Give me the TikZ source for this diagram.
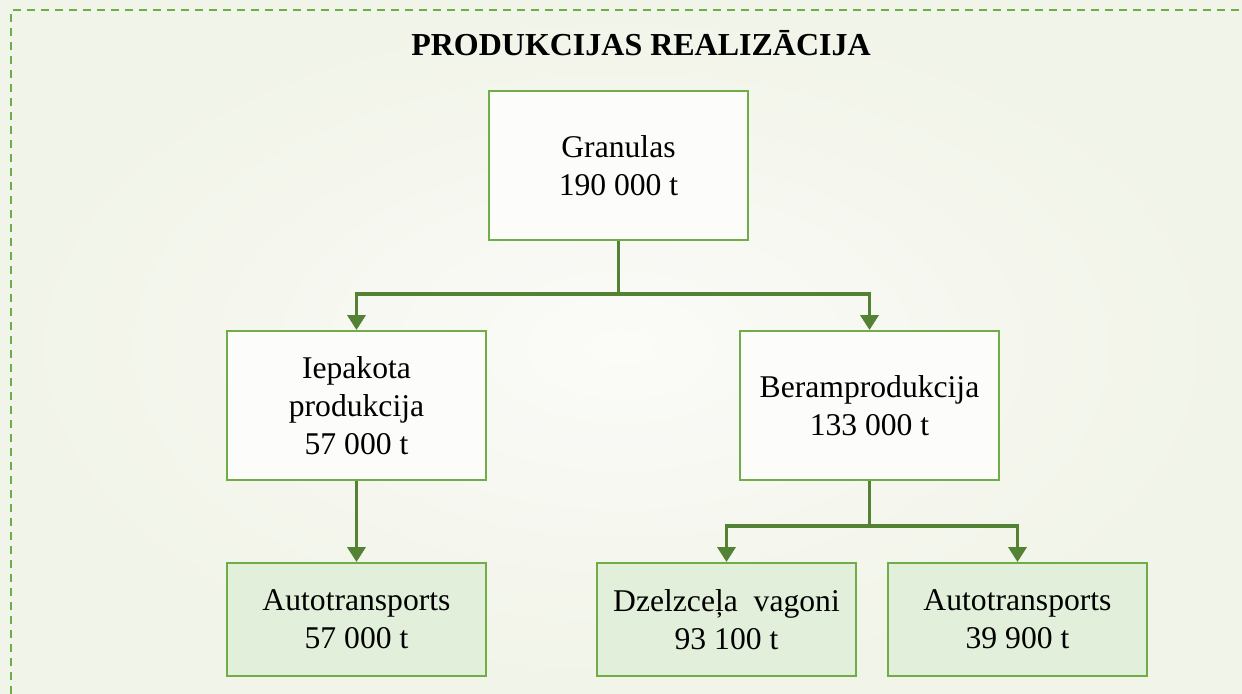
\documentclass[tikz,border=0pt]{standalone}
\usepackage{fontspec}
\setmainfont{Liberation Serif}
\usepackage{tikz}
\usetikzlibrary{arrows.meta,calc,positioning,shadings}
\definecolor{boxgreen}{HTML}{70AD47}
\definecolor{linegreen}{HTML}{548235}
\definecolor{lowfill}{HTML}{E2EFDA}
\definecolor{topfill}{HTML}{FCFCFA}
\definecolor{bgouter}{HTML}{F1F4E8}
\definecolor{bginner}{HTML}{FBFBF8}
\tikzstyle{topbox} = [rectangle,minimum width=5.18cm,minimum height=2.98cm,align=center,draw=boxgreen,line width=1.1pt,fill=topfill,font=\fontsize{18}{21.5}\selectfont]
\tikzstyle{lowbox} = [rectangle,minimum width=5.18cm,minimum height=2.26cm,align=center,draw=boxgreen,line width=1.1pt,fill=lowfill,font=\fontsize{18}{21.5}\selectfont]
\tikzstyle{flow} = [draw=linegreen,line width=2pt]

\begin{document}
\begin{tikzpicture}[->,>={Triangle[width=0.36cm,length=0.3cm]},node distance = 4.8cm]

\useasboundingbox (0,0) rectangle (24.84,-13.88);
\shade[inner color=bginner,outer color=bgouter] (0,0) rectangle (24.84,-13.88);
\draw[-,draw=boxgreen,line width=1.5pt,dash pattern=on 0.17cm off 0.11cm] (0.22,-13.88)--(0.22,-0.2)--(24.84,-0.2);

\node (title) at (12.82,-0.86) {\fontsize{18.2}{21.5}\selectfont\bfseries PRODUKCIJAS REALIZĀCIJA};

\node (gran) [topbox] at (12.37,-3.31) {Granulas\\190 000 t};
\node (iep) [topbox,below of=gran,xshift=-5.24cm] {Iepakota\\produkcija\\57 000 t};
\node (beram) [topbox,below of=gran,xshift=5.02cm] {Beramprodukcija\\133 000 t};
\node (auto1) [lowbox,below of=iep,yshift=0.52cm] {Autotransports\\57 000 t};
\node (dzel) [lowbox,below of=beram,xshift=-2.86cm,yshift=0.52cm] {Dzelzceļa\ \ vagoni\\93 100 t};
\node (auto2) [lowbox,below of=beram,xshift=2.96cm,yshift=0.52cm] {Autotransports\\39 900 t};

\coordinate (j1) at ($(gran.south)+(0,-1.06)$);
\coordinate (j2) at ($(beram.south)+(0,-0.9)$);

\draw[flow,-] (gran.south)--(j1);
\draw[flow] (j1)-|(iep.north);
\draw[flow] (j1)-|(beram.north);
\draw[flow] (iep.south)--(auto1.north);
\draw[flow,-] (beram.south)--(j2);
\draw[flow] (j2)-|(dzel.north);
\draw[flow] (j2)-|(auto2.north);

\end{tikzpicture}
\end{document}
